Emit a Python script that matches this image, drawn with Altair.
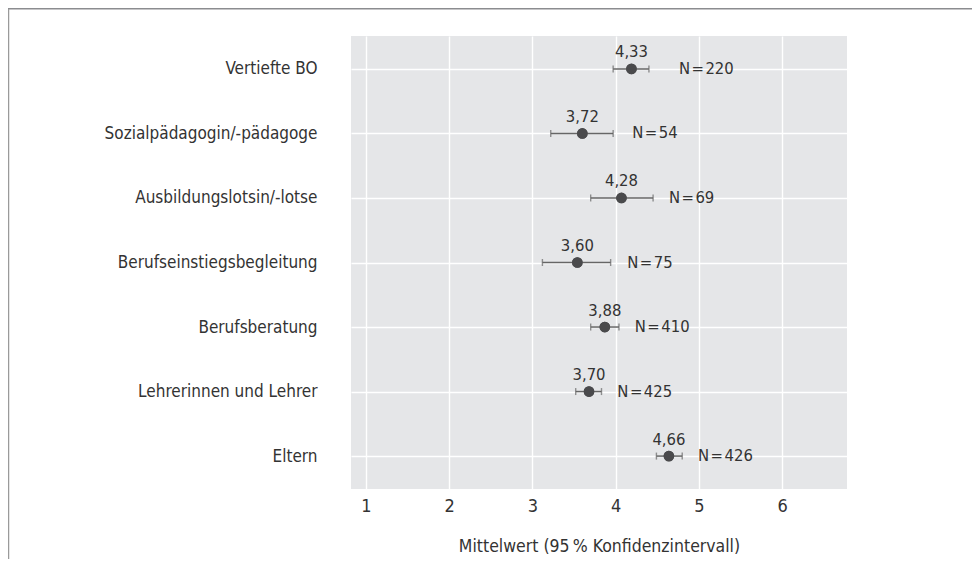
import altair as alt
import pandas as pd

categories = ["Vertiefte BO", "Sozialpädagogin/-pädagoge", "Ausbildungslotsin/-lotse",
              "Berufseinstiegsbegleitung", "Berufsberatung", "Lehrerinnen und Lehrer", "Eltern"]
means = [4.19, 3.60, 4.07, 3.54, 3.87, 3.68, 4.64]
lower = [3.97, 3.22, 3.70, 3.12, 3.70, 3.52, 4.49]
upper = [4.40, 3.97, 4.45, 3.94, 4.04, 3.83, 4.80]
mean_labels = ["4,33", "3,72", "4,28", "3,60", "3,88", "3,70", "4,66"]
n_values = [220, 54, 69, 75, 410, 425, 426]
n_label_at = [4.76, 4.20, 4.64, 4.14, 4.23, 4.02, 4.99]
x_ticks = [1, 2, 3, 4, 5, 6]

FONT = "DejaVu Sans Condensed, DejaVu Sans, sans-serif"
TXT = "#333333"
BAR = "#666666"
HS = "\u200a"

df = pd.DataFrame({
    "cat": categories, "mean": means, "lo": lower, "hi": upper,
    "mlab": mean_labels, "nlab": [f"N{HS}={HS}{n}" for n in n_values], "nx": n_label_at,
})

xscale = alt.Scale(domain=[0.82, 6.78], nice=False, zero=False)
x = alt.X("mean:Q", scale=xscale,
          axis=alt.Axis(values=x_ticks, format="d", title="Mittelwert (95\u202f% Konfidenzintervall)",
                        domain=False, ticks=False, labelPadding=8, titlePadding=22,
                        labelFontSize=18, titleFontSize=17.5, labelColor=TXT, titleColor=TXT,
                        labelFont=FONT, titleFont=FONT, titleFontWeight="normal",
                        gridColor="white", gridWidth=1.4))
yenc = alt.Y("cat:N", sort=categories)
y = alt.Y("cat:N", sort=categories, scale=alt.Scale(type="point", padding=0.51),
          axis=alt.Axis(title=None, domain=False, ticks=False, labelPadding=34, labelLimit=0,
                        labelFontSize=17, labelColor=TXT, labelFont=FONT,
                        gridColor="white", gridWidth=1.4, grid=True))

base = alt.Chart(df)

points = base.mark_circle(size=110, color="#4a4a4c", opacity=1).encode(x=x, y=y)
rules = base.mark_rule(color=BAR, strokeWidth=1.5).encode(x="lo:Q", x2="hi:Q", y=yenc)
cap_lo = base.mark_tick(color=BAR, orient="vertical", size=7, thickness=1.4).encode(x="lo:Q", y=yenc)
cap_hi = base.mark_tick(color=BAR, orient="vertical", size=7, thickness=1.4).encode(x="hi:Q", y=yenc)
dots = base.mark_circle(size=115, color="#4a4a4c", opacity=1).encode(x="mean:Q", y=yenc)
mtext = base.mark_text(font=FONT, fontSize=16.5, color=TXT, baseline="alphabetic", dy=-11.5).encode(
    x="mean:Q", y=yenc, text="mlab:N")
ntext = base.mark_text(font=FONT, fontSize=16.5, color=TXT, align="left", baseline="middle").encode(
    x="nx:Q", y=yenc, text="nlab:N")

deco = alt.Chart(pd.DataFrame({"a": [0]}))
topbar = deco.mark_rect(color="#8b8c8f").encode(
    x=alt.value(-343), x2=alt.value(640), y=alt.value(-28), y2=alt.value(-26.5))
leftline = deco.mark_rule(color="#9a9a9a", strokeWidth=1.5).encode(
    x=alt.value(-342.5), y=alt.value(-27), y2=alt.value(560))

chart = alt.layer(points, rules, cap_lo, cap_hi, dots, mtext, ntext, topbar, leftline).properties(
    width=496, height=453,
    background="white",
    autosize=alt.AutoSizeParams(type="none"),
    padding={"left": 343, "top": 28, "right": 125, "bottom": 70},
).configure_view(fill="#e5e6e8", stroke=None)

chart.save("out.html", embed_options={"renderer": "svg", "actions": False})
